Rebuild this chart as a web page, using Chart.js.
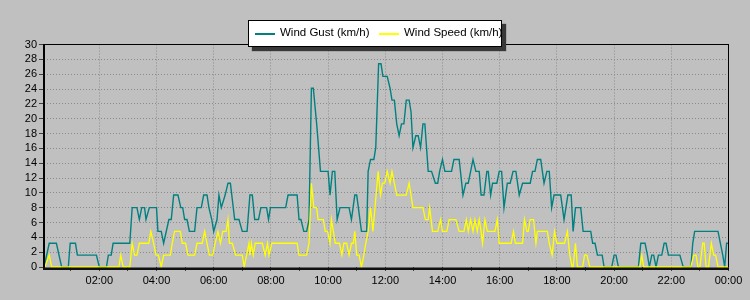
<!DOCTYPE html>
<html>
<head>
<meta charset="utf-8">
<script src="https://cdn.jsdelivr.net/npm/chart.js@4.4.0/dist/chart.umd.min.js"></script>
<style>
    html, body { margin: 0; padding: 0; background: #c0c0c0; }
    #wrap { position: relative; width: 750px; height: 300px; }
    #legend {
        position: absolute; left: 248px; top: 20px; width: 252px; height: 25px;
        background: #fff; border: 1px solid #000; box-shadow: 4px 4px 1px #383838;
        font: 11.5px "Liberation Sans", Arial, sans-serif; color: #000;
    }
    #legend .swatch { position: absolute; top: 12px; width: 20px; height: 1.5px; }
    #legend .label { position: absolute; top: 5px; white-space: nowrap; }
</style>
</head>
<body>
<div id="wrap">
    <canvas id="chart" width="750" height="300"></canvas>
    <div id="legend">
        <span class="swatch" style="left:6px; background:#008080;"></span>
        <span class="label" style="left:31px;">Wind Gust (km/h)</span>
        <span class="swatch" style="left:130px; background:#ffff00;"></span>
        <span class="label" style="left:155px;">Wind Speed (km/h)</span>
    </div>
</div>
<script>
// minutes since midnight, km/h
const gustMinutes = [4, 15, 30, 41, 55, 59, 70, 74, 114, 120, 135, 139, 145, 149, 184, 189, 199, 204, 209, 215,
    218, 225, 240, 243, 250, 255, 266, 271, 276, 285, 291, 295, 299, 304, 309, 320, 325, 334, 339, 346,
    350, 356, 360, 367, 371, 376, 384, 390, 395, 404, 413, 420, 430, 436, 441, 446, 454, 459, 471, 475,
    479, 511, 516, 535, 539, 543, 549, 555, 560, 565, 569, 576, 584, 600, 604, 609, 614, 619, 625, 644,
    649, 656, 660, 670, 681, 684, 689, 696, 700, 706, 711, 715, 724, 730, 734, 739, 744, 749, 754, 759,
    764, 770, 774, 778, 784, 789, 794, 799, 803, 810, 817, 825, 830, 834, 840, 845, 859, 864, 875, 883,
    889, 894, 899, 904, 906, 910, 917, 921, 927, 933, 936, 941, 945, 954, 959, 964, 969, 976, 982, 988,
    994, 1001, 1008, 1024, 1029, 1034, 1039, 1046, 1053, 1059, 1064, 1069, 1074, 1088, 1095, 1103, 1110, 1114, 1119, 1130,
    1135, 1151, 1155, 1160, 1165, 1175, 1179, 1195, 1200, 1204, 1209, 1251, 1256, 1265, 1270, 1274, 1279, 1283, 1288, 1293,
    1300, 1305, 1309, 1314, 1338, 1345, 1361, 1365, 1369, 1418, 1423, 1428, 1432, 1434, 1436, 1440];
const gustValues = [0, 3.2, 3.2, 0, 0, 3.2, 3.2, 1.6, 1.6, 0, 0, 1.6, 1.6, 3.2, 3.2, 8.0, 8.0, 6.4, 8.0, 8.0,
    6.4, 8.0, 8.0, 4.8, 4.8, 3.2, 6.4, 6.4, 9.7, 9.7, 8.0, 8.0, 6.4, 6.4, 4.8, 4.8, 8.0, 8.0, 9.7, 9.7,
    8.0, 6.4, 4.8, 6.4, 9.7, 8.0, 9.7, 11.3, 11.3, 6.4, 6.4, 4.8, 4.8, 9.7, 9.7, 6.4, 6.4, 8.0, 8.0, 6.4,
    8.0, 8.0, 9.7, 9.7, 6.4, 6.4, 4.8, 4.8, 6.4, 24.1, 24.1, 19.3, 12.9, 12.9, 9.7, 12.9, 12.9, 6.4, 8.0, 8.0,
    6.4, 9.7, 9.7, 4.8, 4.8, 12.9, 14.5, 14.5, 16.1, 27.4, 27.4, 25.7, 25.7, 24.1, 22.5, 22.5, 19.3, 17.7, 19.3, 19.3,
    22.5, 22.5, 20.9, 16.1, 17.7, 17.7, 16.1, 19.3, 19.3, 12.9, 12.9, 11.3, 11.3, 12.9, 14.5, 12.9, 12.9, 14.5, 14.5, 9.7,
    11.3, 11.3, 12.9, 14.5, 14.5, 12.9, 12.9, 9.7, 9.7, 12.9, 12.9, 9.7, 11.3, 11.3, 12.9, 12.9, 8.0, 11.3, 11.3, 12.9,
    12.9, 9.7, 11.3, 11.3, 12.9, 12.9, 14.5, 14.5, 11.3, 12.9, 12.9, 8.0, 9.7, 9.7, 6.4, 9.7, 9.7, 4.8, 8.0, 8.0,
    4.8, 4.8, 3.2, 3.2, 1.6, 1.6, 0, 0, 1.6, 1.6, 0, 0, 3.2, 3.2, 1.6, 0, 1.6, 1.6, 0, 1.6,
    1.6, 3.2, 3.2, 1.6, 1.6, 0, 0, 3.2, 4.8, 4.8, 3.2, 1.6, 0, 1.6, 3.2, 3.2];

const speedMinutes = [6, 15, 20, 161, 165, 170, 184, 189, 194, 199, 204, 224, 228, 234, 239, 244, 250, 255, 269, 273,
    278, 290, 294, 301, 306, 320, 325, 336, 341, 346, 351, 358, 363, 369, 374, 379, 386, 390, 393, 399,
    406, 420, 424, 429, 434, 436, 439, 443, 447, 462, 468, 473, 476, 482, 535, 539, 555, 560, 565, 570,
    576, 579, 590, 594, 599, 604, 607, 611, 615, 624, 629, 633, 639, 644, 649, 653, 656, 660, 665, 670,
    675, 679, 684, 689, 694, 705, 710, 714, 719, 724, 730, 734, 744, 764, 770, 778, 799, 804, 810, 813,
    819, 830, 836, 840, 849, 854, 868, 875, 885, 890, 894, 899, 904, 908, 913, 917, 921, 924, 929, 934,
    950, 955, 959, 984, 989, 993, 1008, 1012, 1017, 1020, 1024, 1031, 1036, 1039, 1060, 1064, 1070, 1075, 1080, 1096,
    1102, 1107, 1112, 1114, 1119, 1123, 1134, 1138, 1143, 1149, 1254, 1258, 1262, 1361, 1367, 1372, 1376, 1380, 1386, 1389,
    1393, 1398, 1404, 1409, 1413, 1418, 1440];
const speedValues = [0, 1.6, 0, 0, 1.6, 0, 0, 3.2, 1.6, 1.6, 3.2, 3.2, 4.8, 3.2, 1.6, 1.6, 0, 1.6, 1.6, 3.2,
    4.8, 4.8, 3.2, 3.2, 1.6, 1.6, 3.2, 3.2, 4.8, 3.2, 1.6, 1.6, 3.2, 4.8, 3.2, 4.8, 4.8, 6.4, 3.2, 3.2,
    1.6, 1.6, 0, 1.6, 3.2, 1.6, 3.2, 1.6, 3.2, 3.2, 1.6, 3.2, 1.6, 3.2, 3.2, 1.6, 1.6, 3.2, 11.3, 8.0,
    8.0, 6.4, 6.4, 4.8, 4.8, 3.2, 6.4, 4.8, 3.2, 3.2, 1.6, 3.2, 3.2, 1.6, 3.2, 3.2, 4.8, 1.6, 1.6, 0,
    1.6, 3.2, 4.8, 8.0, 4.8, 12.9, 9.7, 11.3, 11.3, 12.9, 11.3, 12.9, 9.7, 9.7, 11.3, 8.0, 8.0, 6.4, 6.4, 8.0,
    4.8, 4.8, 6.4, 4.8, 4.8, 6.4, 6.4, 4.8, 4.8, 6.4, 4.8, 6.4, 4.8, 6.4, 4.8, 6.4, 4.8, 3.2, 6.4, 4.8,
    4.8, 6.4, 3.2, 3.2, 4.8, 3.2, 3.2, 6.4, 4.8, 4.8, 6.4, 6.4, 3.2, 4.8, 4.8, 3.2, 1.6, 4.8, 3.2, 3.2,
    4.8, 1.6, 0, 0, 3.2, 0, 0, 1.6, 1.6, 0, 0, 1.6, 0, 0, 1.6, 1.6, 0, 0, 3.2, 3.2,
    0, 0, 3.2, 1.6, 1.6, 0, 0];

const hourTicks = [];
for (let h = 1; h <= 24; h++) hourTicks.push(h * 60);

const yTicks = [];
for (let v = 0; v <= 30; v += 2) yTicks.push(v);

function toPoints(times, values) {
    return times.map((t, i) => ({ x: t, y: values[i] }));
}

function hourLabel(v) {
    const h = Math.round(v / 60) % 24;
    return (h < 10 ? '0' : '') + h + ':00';
}

const font = { family: '"Liberation Sans", Arial, sans-serif', size: 11 };

const frame = {
    id: 'frame',
    beforeDraw(chart) {
        const c = chart.ctx;
        c.save();
        c.fillStyle = '#c0c0c0';
        c.fillRect(0, 0, chart.width, chart.height);
        c.restore();
    },
    afterDraw(chart) {
        const { left, right, top, bottom } = chart.chartArea;
        const c = chart.ctx;
        c.save();
        c.fillStyle = '#000';
        c.fillRect(left - 0.5, top - 0.5, right - left + 1, 1);
        c.fillRect(right - 0.5, top - 0.5, 1, bottom - top + 1);
        c.fillRect(left - 1, top - 0.5, 2, bottom - top + 3);
        c.fillStyle = '#101010';
        c.fillRect(left - 1, bottom + 0.5, right - left + 1.5, 2.5);
        c.restore();
    }
};

new Chart(document.getElementById('chart'), {
    type: 'line',
    data: {
        datasets: [{
            label: 'Wind Speed (km/h)',
            data: toPoints(speedMinutes, speedValues),
            borderColor: '#ffff00',
            borderWidth: 1.3,
            pointRadius: 0,
            tension: 0,
            order: 0,
            clip: 3
        }, {
            label: 'Wind Gust (km/h)',
            data: toPoints(gustMinutes, gustValues),
            borderColor: '#008080',
            borderWidth: 1.4,
            pointRadius: 0,
            tension: 0,
            order: 1,
            clip: 3
        }]
    },
    options: {
        responsive: false,
        animation: false,
        layout: { padding: { top: 44.5, right: 21.5, left: 0, bottom: 0 } },
        plugins: { legend: { display: false }, tooltip: { enabled: false } },
        scales: {
            x: {
                type: 'linear',
                min: 4,
                max: 1440,
                afterBuildTicks: (axis) => { axis.ticks = hourTicks.map((v) => ({ value: v })); },
                afterFit: (axis) => { axis.height = 33; },
                ticks: {
                    color: '#000',
                    font: font,
                    padding: 3,
                    maxRotation: 0,
                    autoSkip: false,
                    callback: (v) => (v % 120 === 0 ? hourLabel(v) : '')
                },
                grid: {
                    color: (ctx) => (ctx.tick && ctx.tick.value % 120 === 0 && ctx.tick.value < 1440 ? '#8a8a8a' : 'rgba(0,0,0,0)'),
                    tickColor: '#404040',
                    tickLength: 4
                },
                border: { display: false, dash: [1, 2] }
            },
            y: {
                min: 0,
                max: 30,
                afterBuildTicks: (axis) => { axis.ticks = yTicks.map((v) => ({ value: v })); },
                afterFit: (axis) => { axis.width = 44; },
                ticks: { color: '#000', font: font, padding: 2, autoSkip: false },
                grid: {
                    color: (ctx) => (ctx.tick && ctx.tick.value > 0 && ctx.tick.value < 30 ? '#8a8a8a' : 'rgba(0,0,0,0)'),
                    tickColor: '#404040',
                    tickLength: 5
                },
                border: { display: false, dash: [1, 2] }
            }
        }
    },
    plugins: [frame]
});
</script>
</body>
</html>
